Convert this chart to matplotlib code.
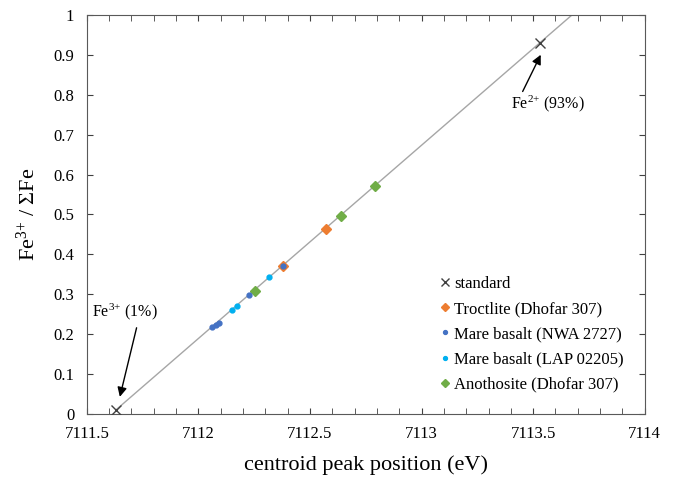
import numpy as np
import matplotlib.pyplot as plt
from matplotlib.ticker import MultipleLocator

plt.rcParams['font.family'] = ['Liberation Serif', 'DejaVu Serif']
plt.rcParams['mathtext.fontset'] = 'custom'
plt.rcParams['mathtext.rm'] = 'Liberation Serif'
plt.rcParams['mathtext.it'] = 'Liberation Serif'

# Data
std_x = [7111.63, 7113.53]
std_y = [0.01, 0.93]

troc_x = [7112.38, 7112.574]
troc_y = [0.371, 0.464]

nwa_x = [7112.063, 7112.078, 7112.093, 7112.226, 7112.38]
nwa_y = [0.218, 0.223, 0.228, 0.298, 0.371]

lap_x = [7112.15, 7112.171, 7112.315]
lap_y = [0.261, 0.271, 0.343]

ano_x = [7112.253, 7112.638, 7112.79]
ano_y = [0.309, 0.496, 0.570]

fig = plt.figure(figsize=(6.73, 4.79), dpi=100)
ax = fig.add_axes([0.129, 0.1357, 0.829, 0.8333])

# calibration line through the standards, up to the top of the plot
k, b = np.polyfit(std_x, std_y, 1)
lx = np.array([std_x[0], (1 - b) / k])
ax.plot(lx, k * lx + b, color='#a6a6a6', lw=1, zorder=1)

ax.plot(std_x, std_y, 'x', color='#404040', ms=7, mew=1, label='standard', zorder=3)
ax.plot(troc_x, troc_y, 'D', color='#ED7D31', ms=5, label='Troctlite (Dhofar 307)', zorder=3)
ax.plot(nwa_x, nwa_y, 'o', color='#4472C4', ms=3.5, label='Mare basalt (NWA 2727)', zorder=4)
ax.plot(lap_x, lap_y, 'o', color='#00B0F0', ms=3.5, label='Mare basalt (LAP 02205)', zorder=4)
ax.plot(ano_x, ano_y, 'D', color='#70AD47', ms=5, label='Anothosite (Dhofar 307)', zorder=3)

arrow = dict(arrowstyle='-|>', color='black', lw=1, mutation_scale=14, shrinkA=0, shrinkB=0)
ax.text(7111.524, 0.256, 'Fe$^{3{+}}$ (1%)', ha='left', va='center', fontsize=11.5)
ax.annotate('', xy=(7111.648, 0.043), xytext=(7111.723, 0.216), arrowprops=arrow)
ax.text(7113.565, 0.777, 'Fe$^{2{+}}$ (93%)', ha='center', va='center', fontsize=11.5)
ax.annotate('', xy=(7113.534, 0.90), xytext=(7113.453, 0.808), arrowprops=arrow)

ax.set_xlim(7111.5, 7114)
ax.set_ylim(0, 1)
ax.xaxis.set_major_locator(MultipleLocator(0.5))
ax.xaxis.set_minor_locator(MultipleLocator(0.1))
ax.yaxis.set_major_locator(MultipleLocator(0.1))
ax.xaxis.set_major_formatter(plt.FuncFormatter(lambda v, p: f'{v:g}'))
ax.yaxis.set_major_formatter(plt.FuncFormatter(lambda v, p: f'{v:g}'))
ax.tick_params(which='both', direction='in', top=True, right=True,
               colors='#404040', labelcolor='black', labelsize=12)
ax.tick_params(which='major', length=4, pad=9)
ax.tick_params(which='minor', length=4)
for s in ax.spines.values():
    s.set_color('#595959')

ax.set_xlabel('centroid peak position (eV)', fontsize=16, labelpad=9)
ax.set_ylabel('Fe$^{3{+}}$ / ΣFe', fontsize=16, labelpad=10)

ax.legend(loc='lower right', bbox_to_anchor=(0.975, 0.037), frameon=False, fontsize=12,
          handletextpad=0.05, handlelength=1, labelspacing=0.55, borderaxespad=0,
          markerscale=0.8)

plt.savefig('out.png', dpi=100)
